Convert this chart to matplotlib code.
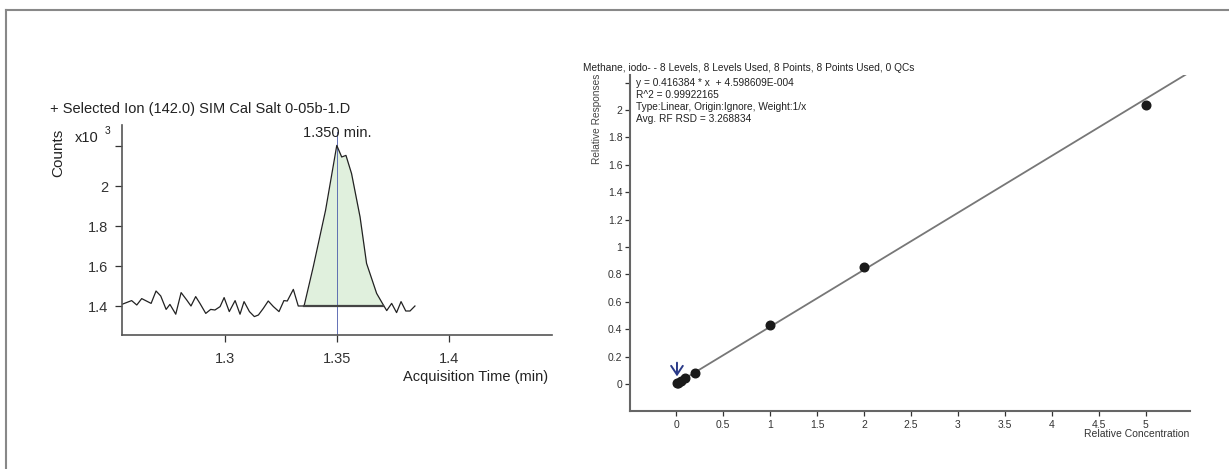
import numpy as np
import matplotlib.pyplot as plt
from matplotlib.lines import Line2D

plt.rcParams['font.family'] = ['Liberation Sans', 'DejaVu Sans']

# chromatogram, SIM 142.0
t = [1.2539, 1.2583, 1.2606, 1.2628, 1.2670, 1.2692, 1.2713, 1.2737, 1.2754, 1.2780,
     1.2804, 1.2829, 1.2848, 1.2869, 1.2888, 1.2914, 1.2936, 1.2955, 1.2978, 1.2996,
     1.3019, 1.3045, 1.3067, 1.3085, 1.3109, 1.3131, 1.3149, 1.3171, 1.3193, 1.3216,
     1.3241, 1.3263, 1.3278, 1.3305, 1.3327, 1.3353, 1.3394, 1.3449, 1.3499, 1.3521,
     1.3540, 1.3565, 1.3603, 1.3632, 1.3677, 1.3707, 1.3722, 1.3744, 1.3766, 1.3786,
     1.3807, 1.3826, 1.3848]
counts = [1.408, 1.427, 1.405, 1.437, 1.413, 1.475, 1.450, 1.383, 1.408, 1.359,
          1.467, 1.430, 1.400, 1.447, 1.413, 1.363, 1.383, 1.380, 1.397, 1.442,
          1.372, 1.427, 1.359, 1.422, 1.372, 1.347, 1.355, 1.388, 1.425, 1.397,
          1.372, 1.427, 1.425, 1.483, 1.400, 1.400, 1.596, 1.879, 2.203, 2.145,
          2.153, 2.062, 1.845, 1.613, 1.463, 1.405, 1.377, 1.413, 1.367, 1.422,
          1.375, 1.375, 1.400]
peak_start, peak_end = 1.3353, 1.3707
baseline = 1.40
rt = 1.350

# calibration
conc = [0.01, 0.02, 0.05, 0.1, 0.2, 1, 2, 5]
resp = [0.004, 0.008, 0.022, 0.045, 0.083, 0.432, 0.852, 2.035]
slope, icpt = 0.416384, 4.598609E-004
fit_x = [0, 5.47]

W, H = 1229, 469
fig = plt.figure(figsize=(W/100, H/100), dpi=100)

def fx(x): return x/W
def fy(y): return 1 - y/H

# frame lines (top and left of the cropped window)
fig.add_artist(Line2D([fx(6), 1], [fy(10), fy(10)], color='#888888', lw=1.5))
fig.add_artist(Line2D([fx(6), fx(6)], [0, fy(10)], color='#888888', lw=1.5))

# ---- left: chromatogram
ax = fig.add_axes([fx(122), fy(335), fx(552)-fx(122), fy(125)-fy(335)])
t = np.array(t); counts = np.array(counts)
m = (t >= peak_start - 1e-6) & (t <= peak_end + 1e-6)
ax.fill_between(t[m], counts[m], baseline, color='#e0f0dd', lw=0)
ax.plot([rt, rt], [1.255, 2.27], color='#4a5aaa', lw=0.6)
ax.plot(t, counts, color='#222222', lw=0.9)
ax.plot([peak_start, peak_end], [baseline, baseline], color='#444444', lw=1.6)
ax.set_xlim(1.254, 1.446)
ax.set_ylim(1.255, 2.305)
ax.set_xticks([1.3, 1.35, 1.4])
ax.set_xticklabels(['1.3', '1.35', '1.4'])
ax.set_yticks([1.4, 1.6, 1.8, 2.0, 2.2])
ax.set_yticklabels(['1.4', '1.6', '1.8', '2', ''])
for s in ['top', 'right']:
    ax.spines[s].set_visible(False)
for s in ['left', 'bottom']:
    ax.spines[s].set_color('#555555')
    ax.spines[s].set_linewidth(1.2)
ax.tick_params(labelsize=10.5, colors='#333333', length=5, width=0.9, pad=5)
ax.tick_params(axis='x', pad=7)
ax.text(rt, 2.265, '1.350 min.', ha='center', va='center', fontsize=10.5, color='#222222')

fig.text(fx(50), fy(109), '+ Selected Ion (142.0) SIM Cal Salt 0-05b-1.D',
         fontsize=10.5, color='#222222', va='center')
fig.text(fx(58), fy(153), 'Counts', rotation=90, fontsize=11, color='#222222',
         ha='center', va='center')
fig.text(fx(75), fy(138), 'x10', fontsize=10.5, color='#222222', va='center')
fig.text(fx(105), fy(131), '3', fontsize=7.5, color='#222222', va='center')
fig.text(fx(548), fy(377), 'Acquisition Time (min)', fontsize=10.5, color='#222222',
         ha='right', va='center')

# ---- right: calibration curve
bx = fig.add_axes([fx(630), fy(411), fx(1190)-fx(630), fy(75)-fy(411)])
fit_x = np.array(fit_x)
bx.plot(fit_x, slope*fit_x + icpt, color='#777777', lw=1.3)
bx.plot(conc, resp, 'o', color='#1a1a1a', ms=6.2)
bx.annotate('', xy=(0.01, 0.055), xytext=(0.01, 0.155),
            arrowprops=dict(arrowstyle='->,head_length=0.45,head_width=0.3',
                            color='#2a3a88', lw=1.4, shrinkA=0, shrinkB=0,
                            mutation_scale=14))
bx.set_xlim(-0.49, 5.47)
bx.set_ylim(-0.198, 2.256)
xt = [0, 0.5, 1, 1.5, 2, 2.5, 3, 3.5, 4, 4.5, 5]
bx.set_xticks(xt)
bx.set_xticklabels(['0', '0.5', '1', '1.5', '2', '2.5', '3', '3.5', '4', '4.5', '5'])
yt = [0, 0.2, 0.4, 0.6, 0.8, 1, 1.2, 1.4, 1.6, 1.8, 2, 2.2]
bx.set_yticks(yt)
bx.set_yticklabels(['0', '0.2', '0.4', '0.6', '0.8', '1', '1.2', '1.4', '1.6', '1.8', '2', ''])
for s in ['top', 'right']:
    bx.spines[s].set_visible(False)
for s in ['left', 'bottom']:
    bx.spines[s].set_color('#666666')
    bx.spines[s].set_linewidth(1.5)
bx.tick_params(labelsize=7.5, colors='#333333', length=3.5, width=0.9, pad=2)
bx.tick_params(axis='x', pad=3)

fig.text(fx(583), fy(68), 'Methane, iodo- - 8 Levels, 8 Levels Used, 8 Points, 8 Points Used, 0 QCs',
         fontsize=7.3, color='#222222', va='center')
lines = ['y = 0.416384 * x  + 4.598609E-004', 'R^2 = 0.99922165',
         'Type:Linear, Origin:Ignore, Weight:1/x', 'Avg. RF RSD = 3.268834']
for i, s in enumerate(lines):
    fig.text(fx(636), fy(83 + 12*i), s, fontsize=7.3, color='#222222', va='center')
fig.text(fx(597), fy(119), 'Relative Responses', rotation=90, fontsize=7.3,
         color='#444444', ha='center', va='center')
fig.text(fx(1189), fy(434), 'Relative Concentration', fontsize=7.5, color='#333333',
         ha='right', va='center')

fig.savefig('out.png', dpi=100)
